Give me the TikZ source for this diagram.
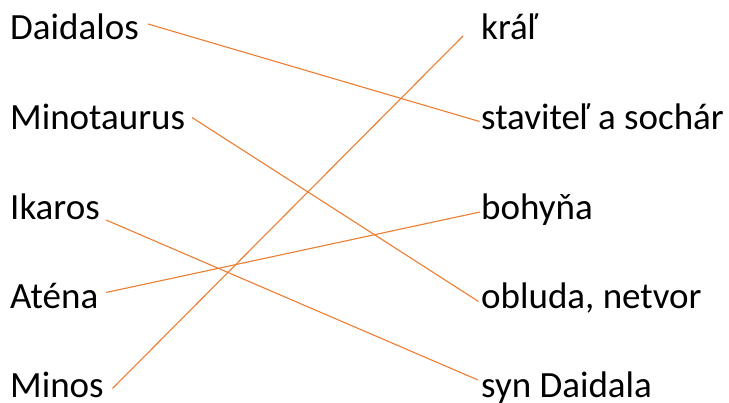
\documentclass[tikz,border=0pt]{standalone}
\usepackage{fontspec}
\setmainfont{Carlito}
\definecolor{linkorange}{HTML}{ED7D31}
\tikzset{
  word/.style={anchor=base west, inner sep=0pt, font=\fontsize{37}{40}\selectfont},
  link/.style={draw=linkorange, line width=1.1pt}
}
\begin{document}
\begin{tikzpicture}[x=1pt,y=-1pt]
\useasboundingbox (0,0) rectangle (729,403);
% left column
\node[word] (daidalos) at (10,40) {Daidalos};
\node[word] (minotaurus) at (10,129.5) {Minotaurus};
\node[word] (ikaros) at (10,219.5) {Ikaros};
\node[word] (atena) at (10,308.5) {Aténa};
\node[word] (minos) at (10,398) {Minos};
% right column
\node[word] (kral) at (481,40) {kráľ};
\node[word] (stavitel) at (481,129.5) {staviteľ a sochár};
\node[word] (bohyna) at (481,219.5) {bohyňa};
\node[word] (obluda) at (481,308.5) {obluda, netvor};
\node[word] (syn) at (481,398) {syn Daidala};
% connector ends
\coordinate (dA) at (148,24);
\coordinate (mA) at (192,117.5);
\coordinate (iA) at (106,220);
\coordinate (aA) at (106,292.5);
\coordinate (nA) at (112.5,388.5);
\coordinate (kB) at (463,36);
\coordinate (sB) at (479.5,121.5);
\coordinate (bB) at (480,212);
\coordinate (oB) at (478.5,301.5);
\coordinate (yB) at (478,380);
% connectors
\draw[link] (dA) -- (sB);
\draw[link] (mA) -- (oB);
\draw[link] (iA) -- (yB);
\draw[link] (aA) -- (bB);
\draw[link] (nA) -- (kB);
\end{tikzpicture}
\end{document}
